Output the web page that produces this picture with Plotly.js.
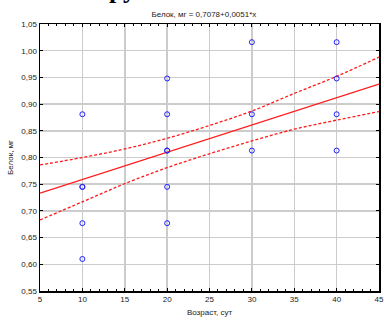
<!DOCTYPE html>
<html>
<head>
<meta charset="utf-8">
<script src="https://cdn.plot.ly/plotly-3.0.1.min.js"></script>
<style>html,body{margin:0;padding:0;background:#fff;}#chart{width:384px;height:323px;}</style>
</head>
<body>
<div id="chart"></div>
<script>
// Observed points (age in days, protein in mg)
const ageDays = [10,10,10,10,10, 20,20,20,20,20,20, 30,30,30, 40,40,40,40];
const proteinMg = [0.881,0.745,0.745,0.677,0.610, 0.948,0.881,0.813,0.813,0.745,0.677, 1.016,0.881,0.813, 1.016,0.948,0.881,0.813];

// Regression: Белок, мг = 0,7078 + 0,0051*x
const fitIntercept = 0.7078;
const fitSlope = 0.0051;
const fitRange = [5, 45];

// 95% confidence band
const bandX = [5,10,15,20,25,30,35,40,45];
const bandUpper = [0.786,0.800,0.816,0.836,0.860,0.887,0.920,0.952,0.988];
const bandLower = [0.683,0.717,0.751,0.781,0.807,0.831,0.853,0.870,0.886];

const titleText = 'Белок, мг = 0,7078+0,0051*x';
const xTitle = 'Возраст, сут';
const yTitle = 'Белок, мг';

const fitY = fitRange.map(x => fitIntercept + fitSlope * x);

const red = '#ff1a1a';
const traces = [
  {x: bandX, y: bandUpper, mode: 'lines', line: {color: red, width: 1.3, dash: '3px,2px', shape: 'spline'}, hoverinfo: 'skip'},
  {x: bandX, y: bandLower, mode: 'lines', line: {color: red, width: 1.3, dash: '3px,2px', shape: 'spline'}, hoverinfo: 'skip'},
  {x: fitRange, y: fitY, mode: 'lines', line: {color: red, width: 1.3}},
  {x: ageDays, y: proteinMg, mode: 'markers',
   marker: {symbol: 'circle-open', size: 5, color: '#2020ff', line: {width: 1, color: '#2020ff'}}}
];

const font = {family: '"Liberation Sans", Arial, sans-serif', size: 8, color: '#222'};
const layout = {
  width: 384, height: 323,
  margin: {l: 40, r: 5, t: 24, b: 32},
  paper_bgcolor: '#fff', plot_bgcolor: '#fff',
  showlegend: false,
  font: font,
  separators: ', ',
  title: {text: titleText, font: {family: font.family, size: 8, color: '#222'},
          xref: 'container', x: 0.531, xanchor: 'center', yref: 'container', y: 0.957, yanchor: 'middle'},
  xaxis: {
    range: [5, 45], dtick: 5, tick0: 5,
    showgrid: true, gridcolor: '#cccccc', gridwidth: 1.5,
    zeroline: false, showline: true, linecolor: '#000', linewidth: 1.5, mirror: 'allticks',
    ticks: 'inside', ticklen: 3, tickcolor: '#000',
    minor: {dtick: 1, ticks: 'inside', ticklen: 2, tickcolor: '#000', showgrid: false},
    tickfont: {family: font.family, size: 8, color: '#222'},
    title: {text: xTitle, font: {family: font.family, size: 8, color: '#222'}, standoff: 6}
  },
  yaxis: {
    range: [0.55, 1.05], dtick: 0.05, tick0: 0.55, tickformat: '.2f',
    showgrid: true, gridcolor: '#cccccc', gridwidth: 1.5,
    zeroline: false, showline: true, linecolor: '#000', linewidth: 1.5, mirror: 'allticks',
    ticks: 'inside', ticklen: 3, tickcolor: '#000',
    tickfont: {family: font.family, size: 8, color: '#222'},
    title: {text: yTitle, font: {family: font.family, size: 8, color: '#222'}, standoff: 6}
  },
  annotations: [
    {text: '<b>Группа</b>', xref: 'paper', yref: 'paper', x: (92-40)/339, y: (291-6)/267,
     xanchor: 'left', yanchor: 'bottom', showarrow: false,
     font: {family: '"Liberation Serif", "Times New Roman", serif', size: 26, color: '#000'}}
  ]
};

Plotly.newPlot('chart', traces, layout, {staticPlot: true, displayModeBar: false});
</script>
</body>
</html>
